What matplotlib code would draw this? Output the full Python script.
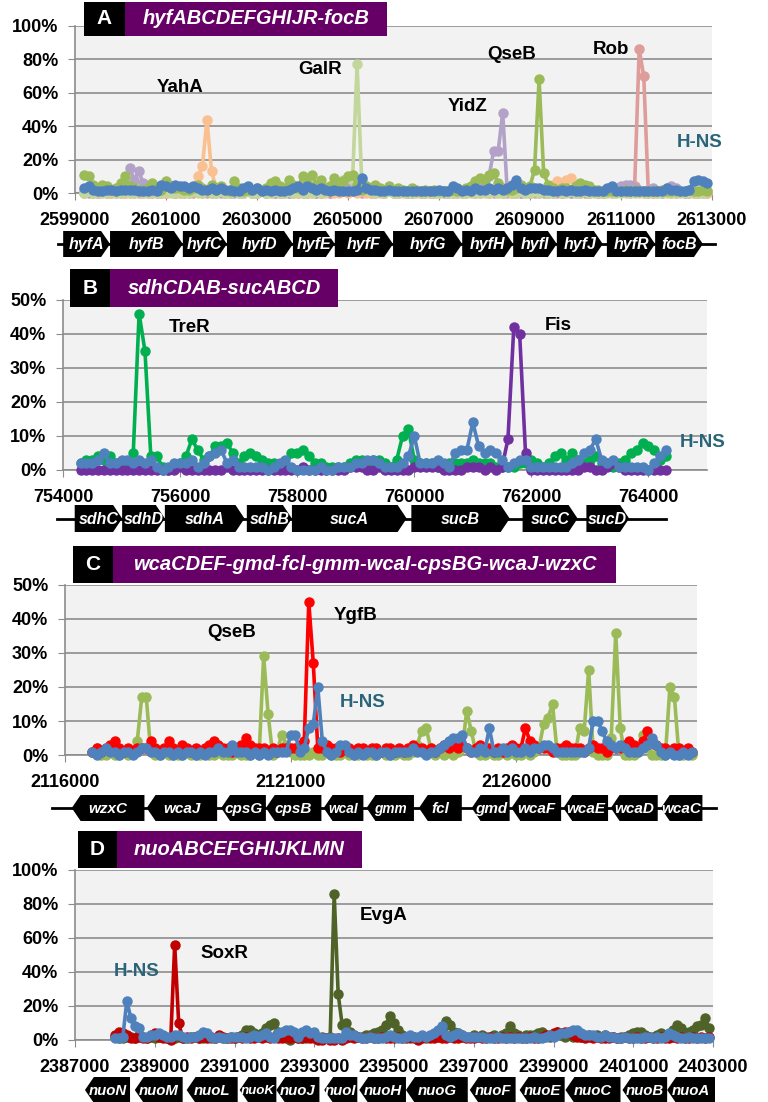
import numpy as np
import matplotlib
matplotlib.use('Agg')
import matplotlib.pyplot as plt
from matplotlib.patches import Polygon, Rectangle

plt.rcParams['font.family'] = ['Liberation Sans', 'DejaVu Sans']

W, H = 768, 1102

# ---------------- Panel A data (hyf operon), % binding, 100 bp steps ----------------
a_start, a_step = 2599200, 100
a_hns = [3,4,2,1,1,2,2,1,2,2, 2,2,1,1,1,2,1,5,4,3, 5,4,4,3,4,3,2,2,3,2,
         3,2,2,1,1,3,4,2,3,1, 2,1,2,1,1,2,3,4,2,4, 3,2,3,2,1,2,1,1,1,1,
         2,9,3,2,2,1,1,2,1,1, 1,1,1,1,1,1,1,1,2,1, 1,4,3,1,2,1,3,2,2,3,
         2,3,2,3,5,8,3,2,3,3, 3,2,2,1,1,2,1,2,1,1, 2,1,1,1,1,3,4,1,1,1,
         1,1,1,1,1,1,1,1,3,2, 2,1,1,2,7,8,7,6]
a_qseb = [11,10,5,3,5,4,2,3,6,10, 4,3,2,2,3,6,3,2,7,4, 3,3,2,2,3,5,3,2,5,2,
          4,2,1,7,3,1,2,2,3,2, 3,6,7,4,2,8,5,3,10,6, 11,5,8,3,4,9,3,7,10,11,
          5,2,4,3,5,3,2,4,2,3, 2,1,3,2,1,2,1,2,1,1, 1,2,1,2,3,4,7,9,8,11,
          12,6,3,2,2,3,5,3,4,14, 68,12,5,3,2,3,3,2,4,6, 5,4,2,2,1,1,1,1,1,2,
          1,2,1,1,1,1,1,2,1,1, 1,1,1,2,1,1,2,1]
a_galr = [0,1,0,1,0,0,1,0,0,1, 0,0,1,0,0,1,0,0,1,0, 0,1,0,0,1,0,0,1,0,0,
          1,0,0,1,0,0,1,0,0,1, 0,0,1,0,0,1,0,1,0,0, 0,1,0,1,2,3,5,8,9,8,
          77,8,2,1,0,1,0,1,0,0, 1,0,0,1,0,0,1,0,0,1, 0,0,1,0,0,1,0,0,1,0,
          1,0,0,1,0,0,1,0,0,1, 0,1,0,0,1,0,0,1,0,0, 1,0,0,1,0,0,1,0,0,1,
          0,0,1,0,0,1,0,0,1,0, 0,1,0,0,1,0,0,1]
a_yaha = [0,1,0,0,1,0,0,1,0,0, 0,1,0,0,1,0,1,0,0,1, 1,0,1,1,2,10,16,44,13,3,
          2,1,0,1,0,0,1,0,0,1, 0,0,1,0,0,1,0,0,1,0, 0,1,0,0,1,0,0,1,0,1,
          0,1,0,0,1,0,0,1,0,0, 0,0,1,0,0,1,0,0,0,1, 0,1,0,0,1,0,0,1,0,0,
          1,0,0,1,0,0,1,0,2,1, 1,2,3,5,7,6,8,9,5,2, 1,0,1,0,0,1,0,0,1,0,
          0,1,0,0,1,0,0,1,0,0, 1,0,0,1,0,0,1,0]
a_yidz = [1,0,1,0,1,0,1,0,2,4, 15,8,13,6,2,1,0,1,0,1, 0,1,0,1,2,3,2,1,0,1,
          0,1,0,0,1,0,1,0,0,1, 0,1,0,1,0,0,1,0,1,0, 1,0,0,1,0,2,3,4,3,2,
          1,0,1,0,0,1,0,1,0,0, 1,0,0,1,0,1,0,0,1,0, 0,1,0,1,2,3,2,3,4,10,
          25,25,48,1,0,1,0,1,0,1, 0,1,0,0,1,0,1,0,1,0, 1,0,1,0,0,1,2,3,4,5,
          5,3,2,1,0,3,1,0,3,4, 3,1,0,1,0,0,1,0]
a_rob = [0,1,0,0,1,0,0,1,0,0, 1,0,0,1,0,0,1,0,0,1, 0,0,1,0,0,1,0,0,1,0,
         1,0,0,1,0,0,1,0,0,1, 0,1,0,0,1,0,0,1,0,0, 1,0,0,1,0,1,2,2,3,4,
         5,5,4,3,2,1,0,1,0,0, 1,0,0,1,0,0,1,0,0,1, 0,0,1,0,0,1,0,0,1,0,
         0,1,0,0,1,0,0,1,0,0, 1,0,0,1,0,0,1,0,0,1, 0,0,1,0,0,1,0,1,1,2,
         2,4,86,70,1,0,1,0,1,0, 0,1,0,0,1,0,0,1]

a_genes = ['hyfA', 'hyfB', 'hyfC', 'hyfD', 'hyfE', 'hyfF', 'hyfG', 'hyfH', 'hyfI', 'hyfJ', 'hyfR', 'focB']
a_gene_start = [2598740, 2599770, 2601370, 2602340, 2603790, 2604710, 2605990, 2607510, 2608630, 2609590, 2610690, 2611750]
a_gene_end = [2599770, 2601370, 2602340, 2603790, 2604710, 2605990, 2607510, 2608630, 2609590, 2610600, 2611750, 2612800]
a_track = [2598630, 2613070]

# ---------------- Panel B data (sdh-suc) ----------------
b_start, b_step = 754300, 100
b_trer = [2,3,3,4,3,4,2,1,2,5, 46,35,4,4,1,0,1,2,4,9, 6,3,4,7,7,8,5,2,4,5,
          4,3,2,2,1,1,5,5,6,4, 2,2,1,1,1,1,2,3,3,2, 3,3,2,1,3,10,12,3,2,2,
          2,1,1,2,2,2,2,3,2,2, 2,1,1,1,1,2,2,3,2,1, 2,4,5,3,5,3,2,3,4,2,
          2,1,2,3,5,6,8,7,6,3, 4]
b_fis = [0,0,0,0,0,0,0,0,0,0, 0,0,0,0,0,0,0,1,0,0, 0,0,0,0,0,1,0,0,0,0,
         0,0,0,0,0,0,0,0,1,0, 0,0,0,0,0,0,1,1,1,0, 0,1,0,0,0,0,0,1,1,1,
         1,1,0,0,0,0,1,1,1,0, 1,0,1,9,42,40,5,0,0,0, 0,0,0,0,0,0,1,1,0,0,
         1,2,1,0,0,0,0,0,0,0, 0]
b_hns = [2,2,2,3,5,2,2,3,3,2, 3,2,3,1,0,1,2,2,2,3, 1,2,4,5,6,2,3,1,1,1,
         1,1,0,1,2,3,1,0,0,0, 0,1,0,0,1,1,1,2,2,3, 3,2,1,1,1,2,4,10,2,2,
         2,3,2,1,5,6,6,14,7,5, 6,5,3,1,2,3,3,1,1,1, 1,1,1,1,2,3,5,6,9,3,
         2,3,1,1,1,1,1,0,2,4, 6]

b_genes = ['sdhC', 'sdhD', 'sdhA', 'sdhB', 'sucA', 'sucB', 'sucC', 'sucD']
b_gene_start = [754200, 755010, 755740, 757140, 757910, 759950, 761850, 762940]
b_gene_end = [755010, 755740, 757100, 757910, 759870, 761630, 762790, 763670]
b_track = [753900, 764300]

# ---------------- Panel C data (wca cluster) ----------------
c_start, c_step = 2116600, 100
c_qseb = [1,2,0,0,1,0,0,1,0,1, 4,17,17,1,0,0,1,0,0,0, 0,1,0,0,0,1,0,0,1,0,
          0,0,1,0,0,0,1,0,29,12, 0,1,6,3,1,0,0,0,0,1, 0,0,1,0,0,0,1,0,0,0,
          1,0,0,0,1,0,0,0,1,0, 0,1,3,7,8,2,0,1,0,1, 0,1,2,13,7,1,0,0,1,0,
          0,1,0,1,0,0,1,0,1,2, 9,11,15,1,0,0,0,0,8,7, 25,1,0,0,0,5,36,8,0,0,
          0,1,6,2,0,0,0,0,20,17, 0,0,1,0]
c_ygfb = [1,2,1,2,3,4,2,1,2,1, 2,2,2,4,2,1,2,4,2,1, 3,2,1,2,1,2,3,4,3,2,
          2,1,2,3,5,3,2,2,2,1, 2,1,2,2,2,2,3,4,45,27, 2,2,3,2,2,1,2,2,1,2,
          2,1,2,2,1,2,2,1,2,1, 2,3,2,2,1,2,1,2,3,2, 3,2,3,2,1,2,3,2,2,1,
          2,1,2,3,2,2,8,4,3,2, 2,2,1,2,2,3,2,2,2,1, 2,3,2,2,1,2,2,2,3,4,
          3,2,4,7,4,3,2,2,1,2, 2,1,2,1]
c_hns = [1,0,1,2,1,1,0,1,1,0, 1,2,2,1,1,0,1,1,0,1, 0,1,1,0,1,0,1,1,2,1,
         1,3,1,1,1,0,1,0,1,0, 1,1,1,1,6,6,1,2,8,9, 20,4,1,0,1,3,3,1,0,1,
         0,1,1,0,1,1,0,1,1,1, 1,2,1,1,0,1,1,2,3,4, 5,5,6,2,1,1,2,1,8,1,
         1,2,1,2,1,1,2,1,2,2, 3,3,2,1,1,1,1,1,1,1, 2,10,10,7,4,3,2,3,2,1,
         1,1,2,3,5,3,1,0,1,0, 0,1,0,1]

c_genes = ['wzxC', 'wcaJ', 'cpsG', 'cpsB', 'wcaI', 'gmm', 'fcl', 'gmd', 'wcaF', 'wcaE', 'wcaD', 'wcaC']
c_gene_start = [2116150, 2117810, 2119460, 2120450, 2121730, 2122680, 2123840, 2125010, 2125890, 2127040, 2128090, 2129200]
c_gene_end = [2117760, 2119370, 2120450, 2121680, 2122610, 2123730, 2124790, 2125850, 2126990, 2128030, 2129130, 2130120]
c_track = [2115710, 2130410]

# ---------------- Panel D data (nuo operon) ----------------
d_start, d_step = 2388000, 100
d_soxr = [3,5,4,3,1,1,2,1,1,3, 4,2,1,1,0,56,10,1,2,1, 2,1,2,1,2,1,3,2,1,1,
          1,2,1,2,1,1,2,1,2,1, 2,1,1,2,1,2,1,1,2,1, 1,0,0,1,0,0,1,0,1,2,
          1,2,1,1,2,1,1,2,1,1, 1,2,1,1,2,1,0,1,2,1, 1,2,1,1,2,1,1,2,1,1,
          1,2,1,1,2,1,1,2,1,2, 1,2,1,1,2,1,1,2,3,3, 4,5,4,5,5,3,2,2,1,2,
          1,2,1,1,1,2,1,1,2,1, 1,2,1,1,2,1,1,2,1,1, 2,1,2,1,1,2,1,2,1,2]
d_evga = [2,1,1,2,2,1,3,2,1,2, 1,2,2,1,1,1,2,1,1,2, 2,1,1,2,1,1,2,1,1,2,
          1,2,3,6,6,4,3,4,7,9, 10,5,2,1,0,2,1,1,1,2, 2,1,2,1,2,86,27,9,10,5,
          3,2,2,3,3,4,5,6,9,14, 10,6,3,2,1,2,1,2,1,2, 2,3,6,11,9,5,4,3,2,2,
          3,2,3,2,2,3,2,3,4,8, 4,3,2,3,3,3,4,5,3,2, 3,5,3,2,3,2,3,2,2,3,
          2,3,2,3,2,2,1,2,2,3, 4,5,5,3,2,2,3,4,3,2, 6,9,7,4,5,6,8,9,13,7]
d_hns = [1,1,2,23,13,8,7,2,2,3, 3,4,3,2,2,3,3,2,1,2, 2,3,5,4,2,1,2,1,1,2,
         2,2,2,1,2,3,2,3,4,2, 1,4,5,6,6,5,2,5,6,4, 5,2,1,1,1,1,1,1,5,3,
         3,2,1,1,2,1,1,1,2,3, 2,1,1,2,3,2,2,3,2,3, 4,6,8,3,2,3,4,3,2,2,
         2,2,2,1,1,1,2,1,1,1, 1,1,1,1,1,2,1,1,2,3, 2,3,4,4,5,6,6,4,3,3,
         3,2,2,3,2,2,1,1,2,1, 1,1,1,2,2,1,2,1,2,4, 3,2,1,1,2,1,1,1,1,1]

d_genes = ['nuoN', 'nuoM', 'nuoL', 'nuoK', 'nuoJ', 'nuoI', 'nuoH', 'nuoG', 'nuoF', 'nuoE', 'nuoC', 'nuoB', 'nuoA']
d_gene_start = [2387250, 2388500, 2389800, 2391130, 2392050, 2393250, 2394130, 2395300, 2396900, 2398150, 2399300, 2400730, 2401850]
d_gene_end = [2388380, 2389700, 2391080, 2392050, 2393130, 2394080, 2395300, 2396850, 2398050, 2399280, 2400680, 2401850, 2403050]

# ---------------- drawing ----------------
GRID = '#8C8C8C'
HNS_TXT = '#2A6478'

fig = plt.figure(figsize=(W / 100, H / 100), dpi=100)


def rect(x0, y0, x1, y1):
    # pixel box (top-left origin) -> figure fraction [l, b, w, h]
    return [x0 / W, 1 - y1 / H, (x1 - x0) / W, (y1 - y0) / H]


def series(ax, start, step, vals, color, z):
    x = np.arange(len(vals)) * step + start
    ax.plot(x, np.array(vals) / 100, '-o', color=color, lw=2.6, ms=6.5,
            clip_on=False, zorder=z)


def style_axes(ax, xlim, xticks, ymax, ystep):
    ax.set_facecolor('#F2F2F2')
    ax.set_xlim(*xlim)
    ax.set_ylim(0, ymax)
    ax.set_xticks(xticks)
    ax.set_xticklabels([str(t) for t in xticks])
    yt = np.round(np.arange(0, ymax + 1e-9, ystep), 2)
    ax.set_yticks(yt)
    ax.set_yticklabels([f'{v * 100:.0f}%' for v in yt])
    ax.yaxis.grid(True, color=GRID, lw=1.2)
    ax.set_axisbelow(True)
    for s in ['top', 'right']:
        ax.spines[s].set_visible(False)
    for s in ['left', 'bottom']:
        ax.spines[s].set_color(GRID)
        ax.spines[s].set_linewidth(1.2)
    ax.tick_params(axis='x', length=5, color=GRID, pad=9, labelsize=13)
    ax.tick_params(axis='y', length=5, color=GRID, pad=7, labelsize=13)
    for lab in ax.get_xticklabels() + ax.get_yticklabels():
        lab.set_fontweight('bold')


def gene_track(box, xlim, names, starts, ends, forward, fs, track=None, small=()):
    g = fig.add_axes(box)
    g.set_xlim(*xlim)
    g.set_ylim(0, 1)
    g.axis('off')
    tip = 0.014 * (xlim[1] - xlim[0])
    if track:
        g.plot(track, [0.5, 0.5], color='black', lw=2, clip_on=False)
    for n, s, e in zip(names, starts, ends):
        if forward:
            pts = [(s, 0), (e - tip, 0), (e, 0.5), (e - tip, 1), (s, 1)]
        else:
            pts = [(e, 0), (s + tip, 0), (s, 0.5), (s + tip, 1), (e, 1)]
        g.add_patch(Polygon(pts, closed=True, facecolor='black', edgecolor='none',
                            clip_on=False))
        g.text((s + e) / 2, 0.48, n, color='white', ha='center', va='center',
               fontsize=fs - 1.2 if n in small else fs, fontweight='bold',
               style='italic', clip_on=False)


def banner(x0, x1, x2, y0, y1, letter, title):
    fig.add_artist(Rectangle((x0 / W, 1 - y1 / H), (x1 - x0) / W, (y1 - y0) / H,
                             transform=fig.transFigure, facecolor='black', edgecolor='none'))
    fig.add_artist(Rectangle((x1 / W, 1 - y1 / H), (x2 - x1) / W, (y1 - y0) / H,
                             transform=fig.transFigure, facecolor='#660066', edgecolor='none'))
    yc = 1 - (y0 + y1) / 2 / H
    fig.text((x0 + x1) / 2 / W, yc, letter, color='white', ha='center', va='center',
             fontsize=15, fontweight='bold')
    fig.text((x1 + x2) / 2 / W, yc, title, color='white', ha='center', va='center',
             fontsize=14.5, fontweight='bold', style='italic')


def label(ax, x, y, s, color='black'):
    ax.text(x, y, s, ha='center', va='center', fontsize=13.5, fontweight='bold', color=color)


# Panel A
axA = fig.add_axes(rect(75, 26, 712, 193))
xlimA = (2599000, 2613000)
style_axes(axA, xlimA, list(range(2599000, 2613001, 2000)), 1.0, 0.2)
series(axA, a_start, a_step, a_rob, '#DE9C9A', 2)
series(axA, a_start, a_step, a_yidz, '#B3A2C7', 3)
series(axA, a_start, a_step, a_yaha, '#FAC090', 4)
series(axA, a_start, a_step, a_galr, '#C3D69B', 5)
series(axA, a_start, a_step, a_qseb, '#9BBB59', 6)
series(axA, a_start, a_step, a_hns, '#4F81BD', 7)
label(axA, 2601300, 0.63, 'YahA')
label(axA, 2604390, 0.74, 'GalR')
label(axA, 2608600, 0.83, 'QseB')
label(axA, 2607620, 0.52, 'YidZ')
label(axA, 2610780, 0.86, 'Rob')
label(axA, 2612720, 0.30, 'H-NS', HNS_TXT)
gene_track(rect(75, 231, 712, 257), xlimA, a_genes, a_gene_start, a_gene_end, True, 11.5, a_track)
banner(84, 125, 387, 2, 36, 'A', 'hyfABCDEFGHIJR-focB')

# Panel B
axB = fig.add_axes(rect(63, 300, 707, 470))
xlimB = (754000, 765000)
style_axes(axB, xlimB, list(range(754000, 764001, 2000)), 0.5, 0.1)
series(axB, b_start, b_step, b_trer, '#00B050', 3)
series(axB, b_start, b_step, b_fis, '#7030A0', 4)
series(axB, b_start, b_step, b_hns, '#4F81BD', 5)
label(axB, 756170, 0.42, 'TreR')
label(axB, 762460, 0.425, 'Fis')
label(axB, 764930, 0.08, 'H-NS', HNS_TXT)
gene_track(rect(63, 505, 707, 532), xlimB, b_genes, b_gene_start, b_gene_end, True, 11.5, b_track)
banner(70, 110, 338, 269, 307, 'B', 'sdhCDAB-sucABCD')

# Panel C
axC = fig.add_axes(rect(65, 585, 697, 755))
xlimC = (2116000, 2130000)
style_axes(axC, xlimC, [2116000, 2121000, 2126000], 0.5, 0.1)
series(axC, c_start, c_step, c_qseb, '#9BBB59', 3)
series(axC, c_start, c_step, c_ygfb, '#FF0000', 4)
series(axC, c_start, c_step, c_hns, '#4F81BD', 5)
label(axC, 2119700, 0.36, 'QseB')
label(axC, 2122430, 0.41, 'YgfB')
label(axC, 2122590, 0.155, 'H-NS', HNS_TXT)
gene_track(rect(65, 795, 697, 821), xlimC, c_genes, c_gene_start, c_gene_end, False, 11, c_track,
           small=('wcaI', 'gmm'))
banner(73, 113, 616, 546, 583, 'C', 'wcaCDEF-gmd-fcl-gmm-wcaI-cpsBG-wcaJ-wzxC')

# Panel D
axD = fig.add_axes(rect(75, 870, 713, 1040))
xlimD = (2387000, 2403000)
style_axes(axD, xlimD, list(range(2387000, 2403001, 2000)), 1.0, 0.2)
series(axD, d_start, d_step, d_evga, '#4F6228', 3)
series(axD, d_start, d_step, d_soxr, '#C00000', 4)
series(axD, d_start, d_step, d_hns, '#4F81BD', 5)
label(axD, 2388550, 0.40, 'H-NS', HNS_TXT)
label(axD, 2390750, 0.51, 'SoxR')
label(axD, 2394730, 0.73, 'EvgA')
gene_track(rect(75, 1077, 713, 1103), xlimD, d_genes, d_gene_start, d_gene_end, False, 10.8,
           small=('nuoK',))
banner(78, 117, 362, 831, 868, 'D', 'nuoABCEFGHIJKLMN')

fig.savefig('out.png', dpi=100)
